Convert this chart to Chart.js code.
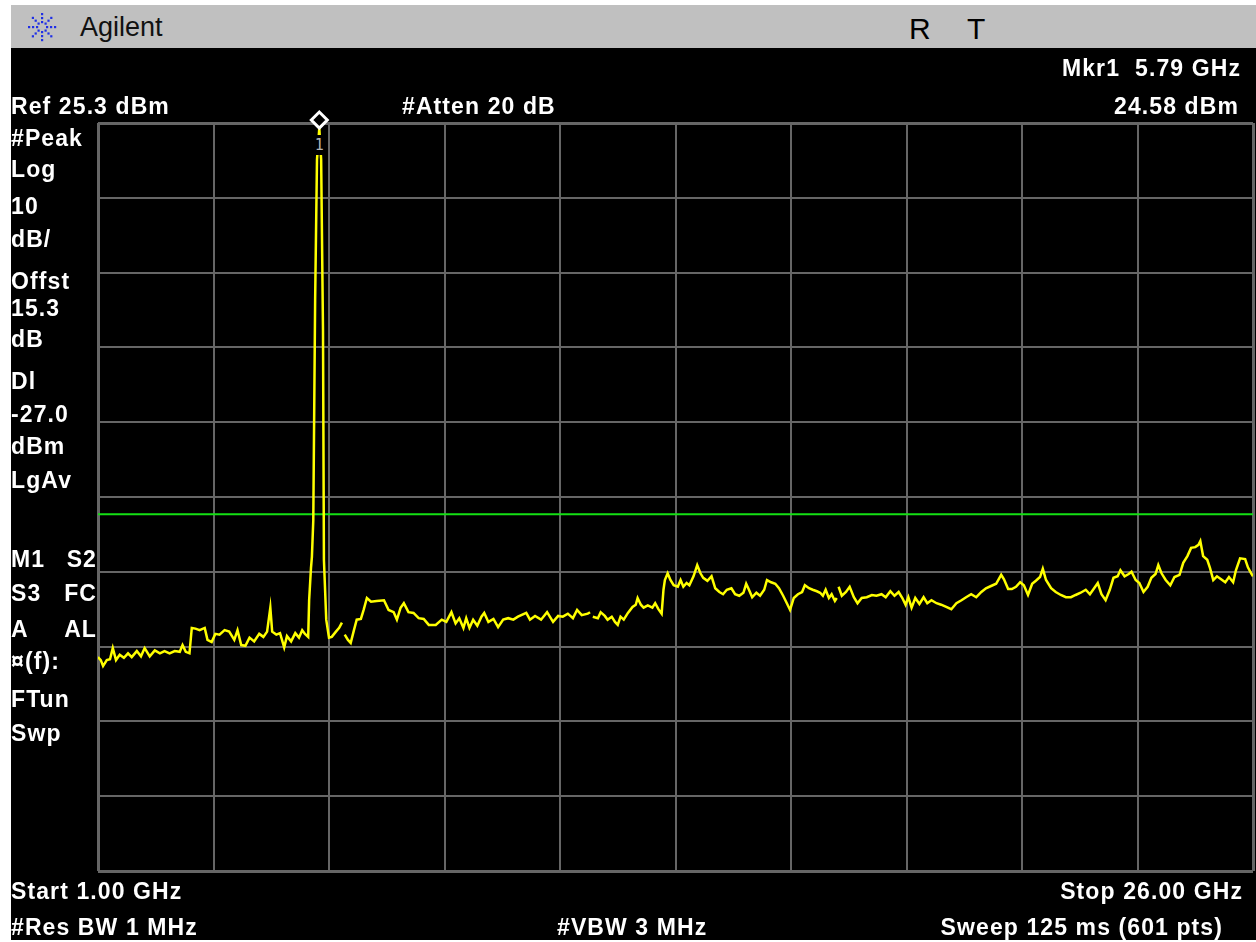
<!DOCTYPE html>
<html>
<head>
<meta charset="utf-8">
<title>Agilent spectrum 1 - 26 GHz</title>
<script src="https://cdn.jsdelivr.net/npm/chart.js"></script>
<style>
  html, body { margin: 0; padding: 0; width: 1256px; height: 942px; overflow: hidden; background: #fff; }
  #header { position: absolute; left: 11px; top: 5px; width: 1245px; height: 43px; background: #c0c0c0; }
  #screen { position: absolute; left: 11px; top: 48px; width: 1245px; height: 892px; background: #000; }
  #plot { position: absolute; left: 0; top: 0; }
  .lbl { position: absolute; color: #fff; font: bold 23px "Liberation Sans", Arial, sans-serif;
         line-height: 23px; letter-spacing: 1.1px; white-space: pre; }
  .col2 { left: 11px; width: 86px; text-align: right; }
  .hdr { position: absolute; color: #111; font-family: "Liberation Sans", Arial, sans-serif; white-space: pre; }
  #mkrTag { position: absolute; top: 135px; width: 14px; height: 20px; background: #000; color: #b4b4b4;
            font: 15px "DejaVu Sans Mono", monospace; line-height: 20px; text-align: center; }
</style>
</head>
<body>
<div id="header"></div>
<svg id="logo" width="40" height="40" style="position:absolute;left:22px;top:7px"></svg>
<div class="hdr" style="left:80px;top:14px;font-size:27px;line-height:27px">Agilent</div>
<div class="hdr" style="left:909px;top:14px;font-size:30px;line-height:30px;color:#000">R</div>
<div class="hdr" style="left:967px;top:14px;font-size:30px;line-height:30px;color:#000">T</div>
<div id="screen"></div>

<div id="plot"><canvas id="cv" width="1264" height="942"></canvas></div>

<div class="lbl" style="right:15px;top:57px">Mkr1  5.79 GHz</div>
<div class="lbl" style="left:11px;top:95px">Ref 25.3 dBm</div>
<div class="lbl" style="left:402px;top:95px">#Atten 20 dB</div>
<div class="lbl" style="right:17px;top:95px">24.58 dBm</div>

<div class="lbl" style="left:11px;top:127px">#Peak</div>
<div class="lbl" style="left:11px;top:158px">Log</div>
<div class="lbl" style="left:11px;top:195px">10</div>
<div class="lbl" style="left:11px;top:228px">dB/</div>
<div class="lbl" style="left:11px;top:270px">Offst</div>
<div class="lbl" style="left:11px;top:297px">15.3</div>
<div class="lbl" style="left:11px;top:328px">dB</div>
<div class="lbl" style="left:11px;top:370px">Dl</div>
<div class="lbl" style="left:11px;top:403px">-27.0</div>
<div class="lbl" style="left:11px;top:435px">dBm</div>
<div class="lbl" style="left:11px;top:469px">LgAv</div>
<div class="lbl" style="left:11px;top:548px">M1</div>
<div class="lbl col2" style="top:548px">S2</div>
<div class="lbl" style="left:11px;top:582px">S3</div>
<div class="lbl col2" style="top:582px">FC</div>
<div class="lbl" style="left:11px;top:618px">A</div>
<div class="lbl col2" style="top:618px">AL</div>
<div class="lbl" style="left:11px;top:650px">¤(f):</div>
<div class="lbl" style="left:11px;top:688px">FTun</div>
<div class="lbl" style="left:11px;top:722px">Swp</div>

<div class="lbl" style="left:11px;top:880px">Start 1.00 GHz</div>
<div class="lbl" style="right:13px;top:880px">Stop 26.00 GHz</div>
<div class="lbl" style="left:11px;top:916px">#Res BW 1 MHz</div>
<div class="lbl" style="left:557px;top:916px">#VBW 3 MHz</div>
<div class="lbl" style="right:33px;top:916px">Sweep 125 ms (601 pts)</div>

<div id="mkrTag">1</div>

<script>
// sweep settings
const startGHz = 1.0;
const stopGHz = 26.0;
const spanPerDivGHz = 2.5;
const refLevelDbm = 25.3;
const dbPerDiv = 10;
const displayLineDbm = -27.0;
const markerGHz = 5.79;
const markerDbm = 24.58;

// trace (null = gap in the trace)
const freqGHz = [
  1.00, 1.06, 1.11, 1.19, 1.26, 1.32, 1.39, 1.47, 1.56, 1.65, 1.73, 1.84, 1.93, 2.01, 2.12, 2.23, 2.34, 2.44, 2.55, 2.66, 2.77, 2.83, 2.90, 2.98,
  3.03, 3.11, 3.20, 3.31, 3.37, 3.46, 3.54, 3.63, 3.74, 3.84, 3.95, 4.02, 4.10, 4.19, 4.28, 4.38, 4.49, 4.58, 4.66, 4.73, 4.77, 4.86, 4.94,
  5.03, 5.09, 5.18, 5.27, 5.35, 5.42, 5.48, 5.55, 5.57, 5.61, 5.63, 5.66, 5.70, 5.74, 5.79, 5.83, 5.87, 5.89, 5.94,
  6.00, 6.06, 6.15, 6.22, 6.28, 6.31, 6.34, 6.41, 6.47, 6.54, 6.60, 6.69, 6.75, 6.82, 6.91, 7.03, 7.19, 7.29, 7.40, 7.47, 7.55, 7.62, 7.72, 7.83, 7.94,
  8.05, 8.16, 8.31, 8.44, 8.54, 8.65, 8.74, 8.82, 8.91, 8.97, 9.04, 9.12, 9.21, 9.30, 9.36, 9.45, 9.56, 9.66, 9.77, 9.88, 9.99,
  10.09, 10.27, 10.35, 10.46, 10.59, 10.72, 10.85, 10.96, 11.06, 11.17, 11.28, 11.37, 11.47, 11.60, 11.65, 11.68, 11.71, 11.82, 11.88, 11.97,
  12.03, 12.12, 12.19, 12.25, 12.31, 12.38, 12.47, 12.57, 12.64, 12.68, 12.75, 12.81, 12.90, 13.00, 13.06, 13.13, 13.20, 13.24, 13.27, 13.33, 13.39, 13.46, 13.55, 13.61, 13.67, 13.74, 13.80, 13.89, 13.97,
  14.04, 14.10, 14.19, 14.28, 14.36, 14.45, 14.53, 14.61, 14.71, 14.79, 14.88, 14.97, 15.03, 15.09, 15.16, 15.25, 15.33, 15.42, 15.48, 15.57, 15.66, 15.74, 15.83, 15.91, 15.98,
  16.06, 16.15, 16.24, 16.30, 16.39, 16.47, 16.56, 16.63, 16.69, 16.75, 16.82, 16.88, 16.95, 16.99, 17.01, 17.03, 17.10, 17.19, 17.27, 17.36, 17.44, 17.53, 17.64, 17.75, 17.85, 17.96,
  18.05, 18.15, 18.24, 18.33, 18.41, 18.48, 18.54, 18.61, 18.69, 18.78, 18.87, 18.95, 19.04, 19.15, 19.25, 19.36, 19.47, 19.58, 19.69, 19.79, 19.90,
  20.01, 20.12, 20.22, 20.33, 20.44, 20.55, 20.61, 20.70, 20.78, 20.87, 20.96, 21.04, 21.13, 21.22, 21.30, 21.39, 21.45, 21.52, 21.63, 21.73, 21.84, 21.95,
  22.06, 22.16, 22.27, 22.38, 22.47, 22.55, 22.64, 22.72, 22.81, 22.90, 22.98, 23.07, 23.13, 23.22, 23.31, 23.37, 23.46, 23.54, 23.63, 23.72, 23.80, 23.89, 23.95,
  24.02, 24.11, 24.21, 24.30, 24.41, 24.49, 24.58, 24.66, 24.75, 24.82, 24.86, 24.92, 25.01, 25.07, 25.14, 25.22, 25.31, 25.40, 25.48, 25.57, 25.63, 25.72, 25.83, 25.89, 25.96, 26.00
];
const levelDbm = [
  -46.1, -46.5, -47.3, -46.5, -46.4, -44.9, -46.5, -45.8, -46.2, -45.6, -46.1, -45.3, -46.0, -44.9, -46.0, -45.2, -45.6, -45.3, -45.6, -45.3, -45.4, -44.5, -45.4, -45.6,
  -42.2, -42.3, -42.5, -42.2, -43.8, -44.1, -43.0, -43.1, -42.5, -42.7, -43.8, -42.5, -44.5, -44.6, -43.5, -44.0, -43.0, -43.4, -42.7, -39.5, -42.7, -43.1, -42.9,
  -44.8, -43.3, -44.0, -42.9, -43.5, -42.5, -43.0, -43.4, -38.5, -34.2, -32.7, -27.8, 1.6, 20.4, 24.58, 20.4, -2.4, -33.1, -41.1,
  -43.5, -43.4, -42.7, -42.2, -41.5, null, -43.1, -43.8, -44.2, -42.5, -41.1, -41.0, -39.8, -38.2, -38.7, -38.6, -38.5, -39.8, -40.1, -41.1, -39.5, -38.9, -40.1, -40.2, -40.9,
  -41.0, -41.8, -41.8, -41.1, -41.4, -40.1, -41.6, -40.9, -42.2, -40.9, -42.2, -41.1, -41.9, -40.7, -40.2, -41.4, -41.0, -42.1, -41.1, -40.9, -41.1,
  -40.7, -40.2, -41.1, -40.6, -41.1, -40.1, -41.4, -40.6, -40.7, -40.3, -40.9, -39.8, -40.5, -40.3, -40.1, null, -40.7, -40.9, -40.1, -40.6,
  -41.1, -40.7, -41.4, -41.8, -40.7, -41.1, -40.2, -39.4, -39.1, -38.2, -39.1, -39.5, -39.2, -39.5, -38.9, -39.7, -40.3, -37.1, -35.8, -34.9, -35.8, -36.5, -36.7, -35.8, -36.7, -36.2, -36.5, -35.3, -33.8,
  -34.9, -35.5, -35.9, -35.3, -36.9, -37.4, -37.7, -37.1, -36.9, -37.7, -37.9, -37.5, -36.3, -37.1, -38.1, -37.5, -37.9, -37.1, -35.8, -36.1, -36.3, -36.9, -37.9, -38.9, -39.8,
  -38.2, -37.7, -37.4, -36.5, -36.9, -37.1, -37.3, -37.5, -37.9, -37.1, -38.2, -37.7, -38.6, -38.2, null, -36.7, -37.9, -37.4, -36.7, -38.1, -38.9, -38.2, -38.1, -37.8, -37.9, -37.7,
  -38.1, -37.3, -37.9, -37.4, -38.2, -39.1, -38.1, -39.5, -38.2, -39.0, -38.1, -38.9, -38.5, -38.9, -39.1, -39.4, -39.7, -38.9, -38.5, -38.1, -37.7,
  -38.1, -37.4, -36.9, -36.6, -36.3, -35.1, -35.7, -37.0, -37.0, -36.7, -36.1, -36.5, -37.8, -36.3, -35.9, -35.4, -34.3, -35.8, -36.9, -37.4, -37.8, -38.1,
  -38.1, -37.8, -37.5, -37.1, -37.7, -37.0, -36.2, -37.7, -38.5, -37.1, -35.5, -35.3, -34.5, -35.3, -35.0, -34.7, -35.8, -36.2, -37.4, -36.7, -35.5, -35.0, -33.8,
  -34.9, -35.8, -36.5, -35.4, -35.1, -33.5, -32.6, -31.5, -31.4, -31.1, -30.6, -32.6, -33.1, -34.2, -35.8, -35.3, -35.7, -36.1, -35.4, -36.1, -34.5, -32.9, -33.0, -34.1, -34.9, -35.3
];

// Agilent starburst logo
const logo = document.getElementById("logo");
for (let a = 0; a < 8; a++) {
  for (let r = 5; r <= 15; r += 4) {
    const ang = (a * Math.PI) / 4;
    const dot = document.createElementNS("http://www.w3.org/2000/svg", "rect");
    dot.setAttribute("x", (20 + r * Math.cos(ang) - 1).toFixed(1));
    dot.setAttribute("y", (20 + r * Math.sin(ang) - 1).toFixed(1));
    dot.setAttribute("width", "2.2");
    dot.setAttribute("height", "2.2");
    dot.setAttribute("fill", "#1f2fe6");
    logo.appendChild(dot);
  }
}

const gridColor = "#666666";
const edgeWidth = (ctx) => (ctx.index === 0 || ctx.index === 10 ? 3 : 2);

const trace = freqGHz.map((f, i) => ({ x: f, y: levelDbm[i] }));

const chart = new Chart(document.getElementById("cv"), {
  type: "line",
  data: {
    datasets: [
      {
        label: "Mkr1",
        data: [{ x: markerGHz, y: refLevelDbm + 0.4 }],
        showLine: false,
        pointStyle: "rectRot",
        pointRadius: 8,
        pointBorderWidth: 3,
        pointBorderColor: "#ffffff",
        pointBackgroundColor: "#000000",
        clip: false,
      },
      {
        label: "Trace 1",
        data: trace,
        borderColor: "#ffff00",
        borderWidth: 2.5,
        pointRadius: 0,
        tension: 0,
        spanGaps: false,
      },
      {
        label: "Display line",
        data: [
          { x: startGHz, y: displayLineDbm },
          { x: stopGHz, y: displayLineDbm },
        ],
        borderColor: "#14e014",
        borderWidth: 2,
        pointRadius: 0,
      },
    ],
  },
  options: {
    responsive: false,
    devicePixelRatio: 1,
    animation: false,
    layout: { padding: { left: 98, top: 123, right: 4, bottom: 71 } },
    plugins: {
      legend: { display: false },
      tooltip: { enabled: false },
      title: { display: false },
    },
    scales: {
      x: {
        type: "linear",
        min: startGHz,
        max: stopGHz,
        ticks: { display: false, stepSize: spanPerDivGHz },
        grid: { color: gridColor, lineWidth: edgeWidth, drawTicks: false },
        border: { display: false },
      },
      y: {
        type: "linear",
        min: refLevelDbm - 10 * dbPerDiv,
        max: refLevelDbm,
        ticks: { display: false, stepSize: dbPerDiv },
        grid: { color: gridColor, lineWidth: edgeWidth, drawTicks: false },
        border: { display: false },
      },
    },
  },
});

// marker number sits under the diamond, on a black patch
const mx = chart.scales.x.getPixelForValue(markerGHz);
document.getElementById("mkrTag").style.left = (mx - 7) + "px";
</script>
</body>
</html>
